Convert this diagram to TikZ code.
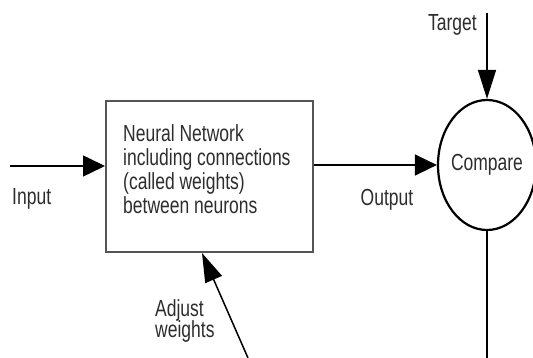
\documentclass[tikz,border=0pt]{standalone}
\usepackage{fontspec}
\setmainfont{Liberation Sans}
\usetikzlibrary{shapes.geometric,arrows.meta}
\definecolor{boxgray}{RGB}{85,85,85}
\definecolor{textgray}{RGB}{45,45,45}

\begin{document}
\begin{tikzpicture}[x=1pt,y=1pt,
    lbl/.style={inner sep=0pt, text=textgray, yscale=1.33, font=\fontsize{17.5}{18}\selectfont},
    harrow/.style={line width=1.5pt, -{Triangle[length=22pt,width=21pt]}},
    varrow/.style={line width=1.5pt, -{Triangle[length=29pt,width=18pt]}}]
    \useasboundingbox (0,0) rectangle (533,358);

    % Network box
    \node[draw=boxgray, line width=2pt, minimum width=207pt, minimum height=151pt, inner sep=0pt] (net) at (209.5,181.5) {};
    \node[lbl, anchor=north west, align=left] (nettext) at (123,233.5) {Neural Network\\including connections\\(called weights)\\between neurons};

    % Compare
    \node[draw, ellipse, line width=2.2pt, minimum width=98pt, minimum height=130pt, inner sep=0pt] (cmp) at (487,193) {};
    \node[lbl] (cmptext) at (cmp.center) {Compare};

    % Input
    \coordinate (in) at (10,192);
    \draw[harrow] (in) -- (in -| net.west);
    \node[lbl, anchor=west] (inlbl) at (12,159) {Input};

    % Output
    \draw[harrow] (cmp.west -| net.east) -- (cmp.west);
    \node[lbl] (outlbl) at (387,158) {Output};

    % Target
    \coordinate (tgt) at (487,345);
    \draw[varrow] (tgt) -- (cmp.north);
    \node[lbl, anchor=east] (tgtlbl) at (477,333) {Target};

    % Feedback
    \coordinate (fb) at (487,0);
    \draw[line width=1.5pt] (cmp.south) -- (fb);
    \coordinate (adj) at (248,0);
    \draw[varrow] (adj) -- ([xshift=-7.5pt]net.south);
    \node[lbl, anchor=west, align=left, font=\fontsize{17.5}{16.5}\selectfont] (adjlbl) at (155,37) {Adjust\\weights};
\end{tikzpicture}
\end{document}
